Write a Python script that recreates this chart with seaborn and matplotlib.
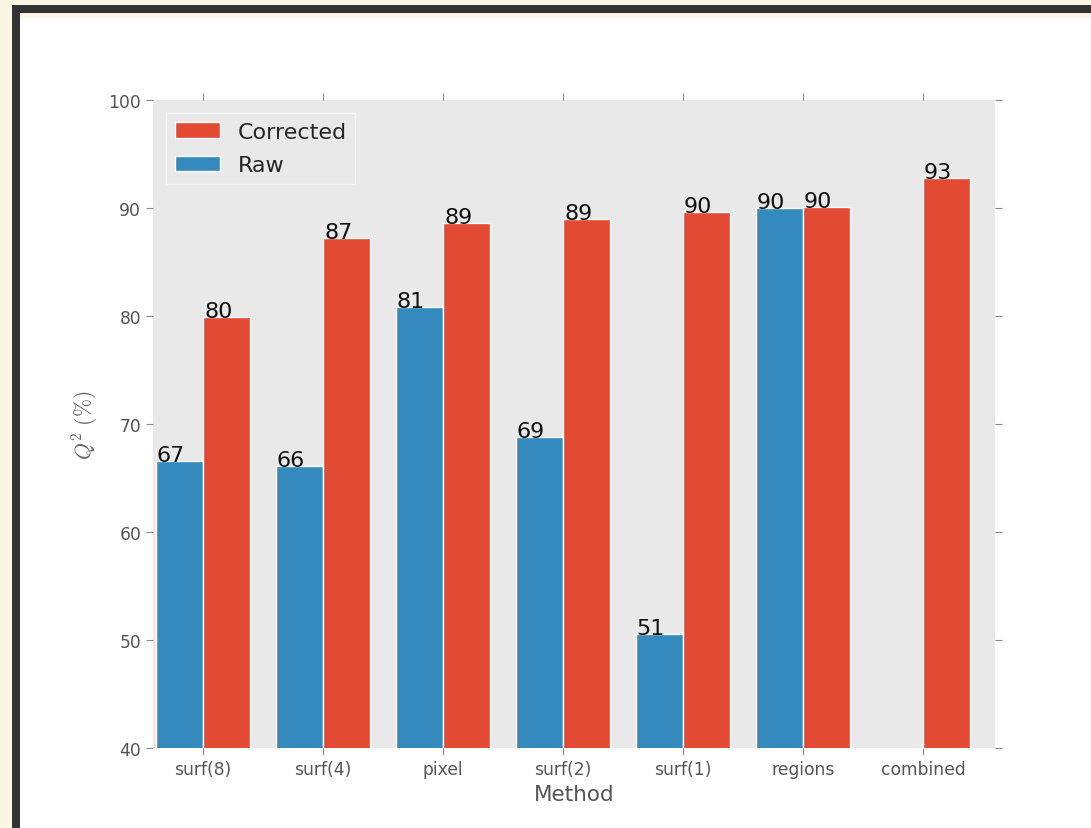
import numpy as np
import pandas as pd
import matplotlib
matplotlib.use("Agg")
import matplotlib.pyplot as plt
from matplotlib.patches import Rectangle
import seaborn as sns

# Q^2 scores per feature extraction method
methods = ["surf(8)", "surf(4)", "pixel", "surf(2)", "surf(1)", "regions", "combined"]
raw = [66.6, 66.1, 80.8, 68.8, 50.6, 90.0, np.nan]
corrected = [79.9, 87.2, 88.6, 89.0, 89.6, 90.1, 92.8]
y_ticks = [40, 50, 60, 70, 80, 90, 100]

BLUE = "#348ABD"
RED = "#E24A33"
GRAY = "#555555"

sns.set_style("white")
plt.rcParams["font.family"] = ["DejaVu Sans"]
plt.rcParams["mathtext.fontset"] = "cm"

df = pd.DataFrame({
    "Method": methods * 2,
    "Q2": raw + corrected,
    "Kind": ["Raw"] * len(methods) + ["Corrected"] * len(methods),
}).dropna()

W, H = 1091, 829
fig = plt.figure(figsize=(W / 100, H / 100), dpi=100, facecolor="#F9F6E6")

# window frame around the figure canvas
fig.patches.append(Rectangle((12 / W, 0), 1 - 12 / W, (H - 6) / H,
                             transform=fig.transFigure, facecolor="#333333",
                             edgecolor="none", zorder=-3))
fig.patches.append(Rectangle((20 / W, 0), 1 - 20 / W, (H - 14) / H,
                             transform=fig.transFigure, facecolor="#F9F6E6",
                             edgecolor="none", zorder=-2))
fig.patches.append(Rectangle((20 / W, 0), 1 - 20 / W, (H - 19) / H,
                             transform=fig.transFigure, facecolor="white",
                             edgecolor="none", zorder=-1))

ax = fig.add_axes([153 / W, 1 - 749.3 / H, (995 - 153) / W, (749.3 - 100.7) / H])
ax.set_facecolor("#E9E9E9")

sns.barplot(data=df, x="Method", y="Q2", hue="Kind", order=methods,
            hue_order=["Raw", "Corrected"], palette=[BLUE, RED],
            width=0.79, errorbar=None, edgecolor="white", linewidth=1,
            saturation=1, ax=ax)

# value labels sitting on the left corner of each bar
for container, series in zip(ax.containers, [raw, corrected]):
    vals = [v for v in series if not np.isnan(v)]
    for bar, v in zip(container, vals):
        ax.text(bar.get_x() + 1 / 120, v, f"{int(round(v))}", ha="left",
                va="baseline", fontsize=16, color="#111111")

ax.set_ylim(40, 100)
ax.set_xlim(-0.417, 6.6)
ax.set_yticks(y_ticks)
ax.set_xticks(range(len(methods)))
ax.set_xticklabels(methods)

for s in ax.spines.values():
    s.set_visible(False)

ax.tick_params(direction="out", length=5, width=0.8, color="#8A8A8A",
               labelcolor=GRAY, labelsize=12.3, top=True, right=True,
               bottom=True, left=True, labeltop=False, labelright=False)

ax.set_xlabel("Method", fontsize=15.5, color=GRAY)
ax.set_ylabel(r"$Q^2\ (\%)$", fontsize=15.5, color="#666666", labelpad=6)

handles, labels = ax.get_legend_handles_labels()
leg = ax.legend(handles[::-1], labels[::-1], loc="upper left", fontsize=16,
                labelspacing=0.6, borderaxespad=0.6,
                frameon=True, fancybox=False, facecolor="#E9E9E9",
                edgecolor="#F4F4F4", framealpha=1)
leg.get_frame().set_linewidth(1.0)

fig.savefig("out.png", dpi=100, facecolor=fig.get_facecolor())
